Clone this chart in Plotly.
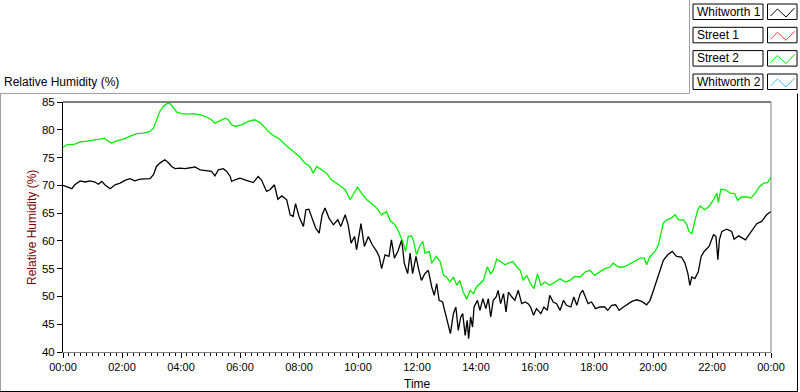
import plotly.graph_objects as go
import pandas as pd

# ---------------- data ----------------
series_names = ["Whitworth 1", "Street 1", "Street 2", "Whitworth 2"]
series_colors = ["#000000", "#ff3c3c", "#00f000", "#3cbcff"]

# minutes after midnight, relative humidity (%)
whitworth1_min = [0, 7, 18, 24, 35, 45, 55, 65, 72, 79, 85, 96, 106, 116, 126, 136, 146, 157, 167, 177,
                  184, 190, 197, 207, 214, 221, 228, 238, 248, 258, 268, 279, 292, 302, 309, 316, 326, 333,
                  340, 343, 350, 360, 370, 380, 387, 397, 404, 414, 421, 430, 437, 445, 455, 462, 468, 473,
                  480, 489, 494, 500, 509, 514, 521, 527, 533, 541, 550, 559, 565, 574, 580, 586, 593, 597,
                  606, 613, 621, 629, 638, 643, 648, 655, 663, 668, 674, 681, 689, 694, 701, 706, 711, 718,
                  723, 729, 736, 743, 750, 755, 760, 765, 772, 779, 784, 788, 794, 799, 804, 809, 813, 818,
                  822, 825, 829, 833, 836, 843, 848, 854, 860, 865, 870, 875, 881, 885, 890, 896, 901, 906,
                  913, 919, 926, 933, 940, 946, 951, 957, 963, 972, 978, 985, 990, 997, 1004, 1011, 1018,
                  1024, 1033, 1039, 1045, 1052, 1057, 1063, 1068, 1075, 1083, 1092, 1102, 1108, 1116, 1124,
                  1131, 1140, 1146, 1157, 1167, 1177, 1187, 1194, 1201, 1207, 1214, 1221, 1230, 1239, 1248,
                  1258, 1265, 1271, 1275, 1279, 1285, 1292, 1298, 1304, 1314, 1323, 1328, 1332, 1335, 1340,
                  1350, 1360, 1365, 1374, 1382, 1388, 1395, 1404, 1411, 1421, 1431, 1440]
whitworth1_rh = [70.0, 69.8, 69.4, 70.1, 70.8, 70.6, 70.8, 70.6, 70.2, 70.7, 70.1, 69.4, 70.1, 70.4, 70.9,
                 71.2, 70.8, 71.1, 71.2, 71.2, 71.9, 73.4, 74.0, 74.6, 74.1, 73.4, 73.0, 73.1, 73.0, 73.1,
                 73.3, 72.8, 72.6, 72.5, 71.7, 72.8, 73.0, 72.5, 71.6, 70.7, 71.0, 71.3, 71.0, 70.7, 70.5,
                 71.6, 70.9, 68.9, 69.2, 70.1, 67.5, 68.1, 67.4, 64.7, 64.4, 66.7, 64.4, 62.6, 65.6, 65.7,
                 63.5, 62.3, 61.4, 64.7, 65.9, 64.1, 62.9, 63.8, 62.6, 64.7, 62.9, 59.6, 60.8, 58.4, 63.1,
                 59.0, 60.8, 59.3, 58.1, 57.2, 55.0, 57.5, 57.2, 60.2, 56.9, 58.1, 60.2, 56.0, 54.1, 57.8,
                 54.1, 57.2, 55.0, 52.9, 54.1, 54.7, 51.7, 50.2, 52.3, 49.3, 49.0, 46.6, 45.1, 43.3, 46.9,
                 48.1, 43.9, 46.3, 46.9, 43.0, 45.7, 42.4, 46.3, 44.5, 48.1, 49.3, 47.5, 49.6, 47.8, 49.6,
                 46.3, 49.3, 49.9, 51.1, 48.7, 50.5, 47.2, 50.8, 49.9, 49.3, 51.1, 48.7, 49.0, 48.7, 48.1,
                 46.6, 47.8, 46.9, 48.1, 47.5, 50.2, 49.0, 48.7, 47.5, 49.3, 48.4, 48.1, 49.9, 48.4, 50.5,
                 51.1, 49.9, 48.7, 49.0, 47.8, 48.1, 48.1, 47.5, 48.4, 48.5, 47.5, 48.1, 48.5, 49.1, 49.4,
                 49.1, 48.5, 49.3, 51.1, 52.6, 54.7, 56.5, 57.5, 58.1, 57.2, 57.1, 56.0, 54.1, 52.0, 53.5,
                 53.2, 54.4, 57.2, 58.1, 59.0, 61.1, 60.8, 56.6, 60.2, 61.7, 62.1, 61.7, 60.3, 60.9, 60.5,
                 60.2, 61.1, 62.3, 63.1, 63.5, 64.7, 65.3]

street2_min = [0, 7, 24, 35, 45, 55, 65, 75, 85, 89, 99, 109, 123, 136, 150, 163, 177, 184, 190, 197, 204,
               211, 218, 224, 231, 241, 252, 265, 279, 292, 302, 309, 319, 330, 336, 343, 350, 363, 377,
               390, 401, 411, 421, 431, 441, 452, 462, 472, 482, 492, 502, 509, 516, 526, 536, 546, 557,
               567, 574, 584, 590, 599, 607, 618, 628, 638, 648, 658, 665, 675, 682, 687, 692, 697, 702,
               709, 713, 719, 725, 732, 736, 745, 750, 759, 767, 774, 780, 787, 794, 801, 807, 814, 821,
               828, 835, 841, 848, 855, 863, 870, 875, 882, 890, 899, 906, 915, 923, 930, 936, 943, 951,
               958, 965, 972, 980, 990, 1001, 1011, 1021, 1031, 1041, 1052, 1062, 1072, 1081, 1092, 1102,
               1113, 1119, 1130, 1140, 1150, 1163, 1174, 1182, 1187, 1194, 1204, 1211, 1216, 1221, 1228,
               1237, 1245, 1252, 1262, 1269, 1273, 1279, 1284, 1291, 1296, 1305, 1314, 1323, 1330, 1333,
               1338, 1347, 1357, 1366, 1372, 1380, 1391, 1399, 1408, 1416, 1425, 1433, 1440]
street2_rh = [76.8, 77.3, 77.4, 77.8, 77.9, 78.1, 78.2, 78.3, 78.5, 78.1, 77.6, 78.0, 78.3, 78.8, 79.3,
              79.4, 79.7, 80.3, 81.8, 83.3, 84.2, 84.7, 84.7, 83.9, 83.2, 82.9, 82.8, 82.9, 82.7, 82.3,
              81.8, 81.2, 81.7, 82.1, 81.8, 80.9, 80.6, 80.9, 81.5, 81.8, 81.3, 80.3, 79.4, 78.8, 78.3,
              77.3, 76.5, 75.8, 75.1, 74.0, 73.4, 72.2, 73.4, 72.8, 72.2, 71.0, 70.4, 69.7, 69.2, 67.4,
              68.3, 69.7, 68.6, 67.4, 66.7, 65.9, 64.7, 65.3, 63.7, 62.9, 61.8, 60.8, 59.6, 58.1, 60.8,
              60.9, 60.0, 57.5, 59.0, 59.9, 57.8, 58.1, 56.0, 57.2, 56.3, 53.8, 53.5, 52.6, 53.5, 52.0,
              52.9, 50.8, 49.5, 51.1, 50.5, 51.7, 52.4, 52.9, 55.3, 54.1, 54.7, 56.7, 56.3, 55.7, 56.0,
              56.3, 55.3, 54.7, 52.9, 53.8, 52.3, 51.4, 54.1, 52.0, 52.6, 52.0, 52.6, 53.2, 52.6, 52.9,
              53.6, 53.5, 54.4, 54.7, 53.8, 54.4, 55.0, 55.3, 56.0, 55.3, 55.3, 55.7, 56.3, 56.9, 56.9,
              55.7, 57.2, 58.1, 59.3, 61.4, 63.2, 63.8, 64.1, 64.7, 63.8, 63.8, 62.9, 61.7, 61.3, 63.2,
              65.6, 66.3, 65.6, 66.2, 67.4, 68.6, 66.9, 69.3, 69.2, 68.6, 68.5, 67.3, 67.9, 67.9, 67.7,
              68.6, 69.7, 70.4, 70.5, 71.5]

street1_min, street1_rh = [], []
whitworth2_min, whitworth2_rh = [], []

y_tick_values = [40, 45, 50, 55, 60, 65, 70, 75, 80, 85]
y_title = "Relative Humidity (%)"
x_title = "Time"

# ---------------- figure ----------------
W, H = 800, 392
ML, MR, MT, MB = 63, 29, 102, 40
PW, PH = W - ML - MR, H - MT - MB


def px(x):
    return (x - ML) / PW


def py(y):
    return (H - MB - y) / PH


base = pd.Timestamp("2013-06-01")


def to_time(mins):
    return [(base + pd.Timedelta(minutes=m)).strftime("%Y-%m-%d %H:%M:%S") for m in mins]


fig = go.Figure()
all_data = [(whitworth1_min, whitworth1_rh), (street1_min, street1_rh),
            (street2_min, street2_rh), (whitworth2_min, whitworth2_rh)]
for name, color, (m, v) in zip(series_names, series_colors, all_data):
    fig.add_trace(go.Scatter(x=to_time(m), y=v, mode="lines", name=name,
                             line=dict(color=color, width=1.3), showlegend=False))

font_main = "Liberation Sans, Arial, sans-serif"

fig.update_xaxes(
    type="date",
    range=[base.strftime("%Y-%m-%d %H:%M:%S"), (base + pd.Timedelta(days=1)).strftime("%Y-%m-%d %H:%M:%S")],
    tickformat="%H:%M", dtick=2 * 3600 * 1000, tick0=base.strftime("%Y-%m-%d %H:%M:%S"),
    ticks="outside", ticklen=5, tickcolor="#000000", tickwidth=1,
    minor=dict(dtick=12 * 60 * 1000, ticks="outside", ticklen=3, tickcolor="#000000", tickwidth=1),
    showline=True, linecolor="#808080", linewidth=1,
    showgrid=False, zeroline=False,
    tickfont=dict(family=font_main, size=11, color="#000000"),
)
fig.update_yaxes(
    range=[40, 85], tickmode="array", tickvals=y_tick_values,
    ticks="outside", ticklen=5, tickcolor="#000000", tickwidth=1,
    showline=True, linecolor="#000000", linewidth=1,
    showgrid=False, zeroline=False,
    tickfont=dict(family=font_main, size=11.5, color="#000000"),
)

shapes = []
# plot border (top black, right gray)
shapes.append(dict(type="line", xref="paper", yref="paper", x0=0, x1=1, y0=1, y1=1,
                   line=dict(color="#000000", width=1)))
shapes.append(dict(type="line", xref="paper", yref="paper", x0=1, x1=1, y0=0, y1=1,
                   line=dict(color="#808080", width=1)))
# outer frame
frame_gray = "#a0a0a0"
shapes.append(dict(type="line", xref="paper", yref="paper", x0=px(0), x1=px(689.5), y0=py(93.5), y1=py(93.5),
                   line=dict(color=frame_gray, width=1)))
shapes.append(dict(type="line", xref="paper", yref="paper", x0=px(689.5), x1=px(689.5), y0=py(0), y1=py(93.5),
                   line=dict(color=frame_gray, width=1)))
shapes.append(dict(type="line", xref="paper", yref="paper", x0=px(0.5), x1=px(0.5), y0=py(93.5), y1=py(392),
                   line=dict(color=frame_gray, width=1)))
shapes.append(dict(type="line", xref="paper", yref="paper", x0=px(0), x1=px(798), y0=py(391.5), y1=py(391.5),
                   line=dict(color="#000000", width=1)))
shapes.append(dict(type="line", xref="paper", yref="paper", x0=px(797.5), x1=px(797.5), y0=py(93.5), y1=py(392),
                   line=dict(color="#000000", width=1)))

annotations = []
# legend
row_top = [4, 27.3, 50.6, 74]
row_h = 15.5
for i, (name, color) in enumerate(zip(series_names, series_colors)):
    t = row_top[i]
    b = t + row_h
    shapes.append(dict(type="rect", xref="paper", yref="paper", x0=px(693), x1=px(763), y0=py(b), y1=py(t),
                       line=dict(color="#000000", width=1), fillcolor="#ffffff"))
    shapes.append(dict(type="rect", xref="paper", yref="paper", x0=px(767.5), x1=px(797), y0=py(b), y1=py(t),
                       line=dict(color="#000000", width=1), fillcolor="#ffffff"))
    pts = [(770.5, t + 12), (777.5, t + 5), (786, t + 13), (794.5, t + 4)]
    path = "M " + " L ".join(f"{px(a):.5f},{py(c):.5f}" for a, c in pts)
    shapes.append(dict(type="path", xref="paper", yref="paper", path=path,
                       line=dict(color=color, width=1)))
    annotations.append(dict(xref="paper", yref="paper", x=px(695), y=py(t + row_h / 2), text=name,
                            showarrow=False, xanchor="left", yanchor="middle",
                            font=dict(family=font_main, size=12, color="#000000")))

# titles
annotations.append(dict(xref="paper", yref="paper", x=px(2), y=py(82), text=y_title, showarrow=False,
                        xanchor="left", yanchor="middle",
                        font=dict(family=font_main, size=12, color="#000000")))
annotations.append(dict(xref="paper", yref="paper", x=px(32), y=py(228), text=y_title, showarrow=False,
                        textangle=-90, xanchor="center", yanchor="middle",
                        font=dict(family=font_main, size=12, color="#7a0000")))
annotations.append(dict(xref="paper", yref="paper", x=px(417), y=py(384), text=x_title, showarrow=False,
                        xanchor="center", yanchor="middle",
                        font=dict(family=font_main, size=12, color="#000000")))

fig.update_layout(
    width=W, height=H, autosize=False,
    margin=dict(l=ML, r=MR, t=MT, b=MB, pad=0),
    paper_bgcolor="#ffffff", plot_bgcolor="#ffffff",
    shapes=shapes, annotations=annotations,
    showlegend=False,
)

fig.write_html("out.html", config={"displayModeBar": False},
               post_script="document.body.style.margin='0px';document.body.style.overflow='hidden';")
